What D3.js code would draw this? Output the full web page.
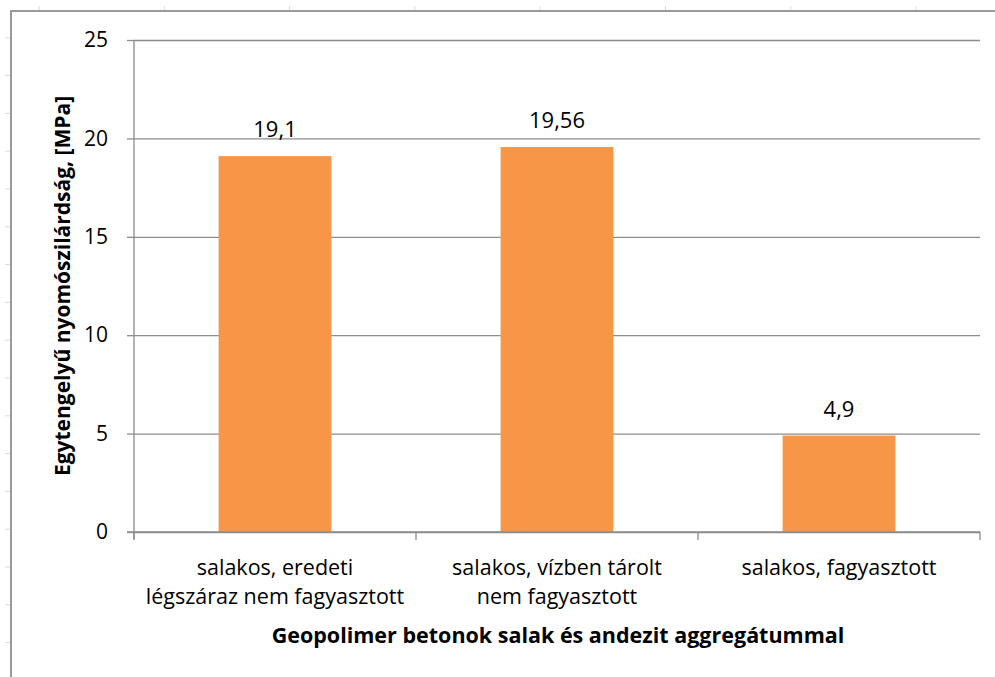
<!DOCTYPE html>
<html>
<head>
<meta charset="utf-8">
<script src="https://cdn.jsdelivr.net/npm/d3@7"></script>
<style>
  body { margin: 0; background: #fff; }
  text { font-family: "Open Sans", "Noto Sans", sans-serif; fill: #000; }
</style>
</head>
<body>
<svg width="995" height="677"></svg>
<script>
const categories = [
    ['salakos, eredeti', 'légszáraz nem fagyasztott'],
    ['salakos, vízben tárolt', 'nem fagyasztott'],
    ['salakos, fagyasztott']
];
const values = [19.1, 19.56, 4.9];
const valueLabels = ['19,1', '19,56', '4,9'];
const yTicks = [0, 5, 10, 15, 20, 25];
const yTitle = 'Egytengelyű nyomószilárdság, [MPa]';
const xTitle = 'Geopolimer betonok salak és andezit aggregátummal';

let svg = d3.select('svg');
let side = {left: 134, right: 980, top: 40, bottom: 532};

// page frame + ruler marks
svg.append('path')
    .attr('d', 'M11,677 V11 H995')
    .attr('fill', 'none')
    .attr('stroke', '#9a9a9a')
    .attr('stroke-width', 2);
svg.selectAll('line.rx').data(d3.range(8)).enter().append('line')
    .attr('x1', i => 39 + i * 125.3).attr('x2', i => 39 + i * 125.3)
    .attr('y1', 6).attr('y2', 10)
    .attr('stroke', '#dadada');
svg.selectAll('line.ry').data(d3.range(1, 18)).enter().append('line')
    .attr('y1', i => i * 37.8).attr('y2', i => i * 37.8)
    .attr('x1', 5).attr('x2', 10)
    .attr('stroke', '#dadada');

let x = d3.scaleBand().domain(d3.range(categories.length)).range([side.left, side.right]);
let y = d3.scaleLinear().domain([0, 25]).range([side.bottom, side.top]);

// gridlines
svg.append('g')
    .attr('transform', `translate(${side.left},0)`)
    .call(d3.axisLeft(y).tickValues(yTicks).tickSize(-(side.right - side.left)).tickFormat(''))
    .call(g => g.select('.domain').remove())
    .call(g => g.selectAll('line').attr('stroke', '#8c8c8c').attr('stroke-width', 1.3));
// y axis
svg.append('g')
    .attr('transform', `translate(${side.left},0)`)
    .call(d3.axisLeft(y).tickValues(yTicks).tickSize(7).tickPadding(19).tickFormat(d => d))
    .call(g => g.select('.domain').attr('stroke', '#8c8c8c').attr('stroke-width', 1.3).attr('d', `M0,${side.top}V${side.bottom + 7}`))
    .call(g => g.selectAll('line').attr('stroke', '#8c8c8c').attr('stroke-width', 1.3))
    .call(g => g.selectAll('text').style('font-size', '21px').style('font-family', '"Open Sans", sans-serif').attr('fill', '#000'));

// bars
let barW = x.bandwidth() * 0.4;
svg.selectAll('rect.bar').data(values).enter().append('rect')
    .attr('class', 'bar')
    .attr('x', (d, i) => x(i) + (x.bandwidth() - barW) / 2)
    .attr('width', barW)
    .attr('y', d => y(d))
    .attr('height', d => y(0) - y(d))
    .attr('fill', '#F79646');

// x axis
svg.append('line')
    .attr('x1', side.left - 7).attr('x2', side.right)
    .attr('y1', side.bottom).attr('y2', side.bottom)
    .attr('stroke', '#8c8c8c').attr('stroke-width', 1.3);
svg.selectAll('line.xt').data(d3.range(categories.length + 1)).enter().append('line')
    .attr('x1', i => side.left + i * x.bandwidth()).attr('x2', i => side.left + i * x.bandwidth())
    .attr('y1', side.bottom).attr('y2', side.bottom + 8)
    .attr('stroke', '#8c8c8c').attr('stroke-width', 1.3);

// value labels
svg.selectAll('text.val').data(values).enter().append('text')
    .attr('x', (d, i) => x(i) + x.bandwidth() / 2)
    .attr('y', d => y(d) - 19)
    .attr('text-anchor', 'middle')
    .style('font-size', '22px')
    .text((d, i) => valueLabels[i]);

// category labels
let cat = svg.selectAll('text.cat').data(categories).enter().append('text')
    .attr('text-anchor', 'middle')
    .style('font-size', '21.5px');
cat.selectAll('tspan').data(d => d).enter().append('tspan')
    .attr('x', function () { return x(categories.indexOf(d3.select(this.parentNode).datum())) + x.bandwidth() / 2; })
    .attr('y', (d, j) => 575 + j * 29)
    .text(d => d);

// axis titles
svg.append('text')
    .attr('transform', 'translate(70,286) rotate(-90)')
    .attr('text-anchor', 'middle')
    .style('font-size', '21px')
    .style('font-weight', 'bold')
    .text(yTitle);
svg.append('text')
    .attr('x', 558).attr('y', 643)
    .attr('text-anchor', 'middle')
    .style('font-size', '21.5px')
    .style('font-weight', 'bold')
    .text(xTitle);
</script>
</body>
</html>
